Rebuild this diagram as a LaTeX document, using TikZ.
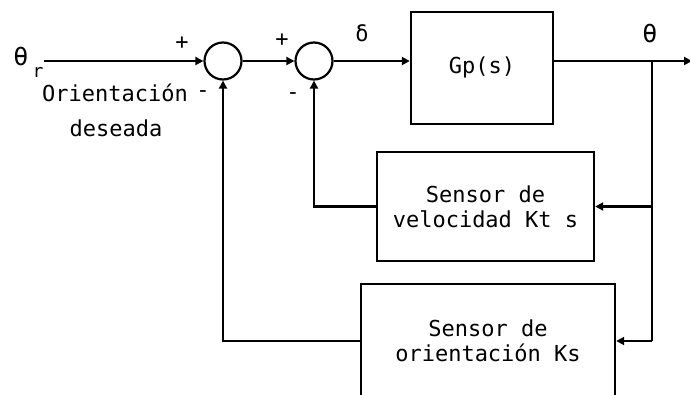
\documentclass[tikz,border=0pt]{standalone}
\usepackage{fontspec}
\setmainfont{DejaVu Sans Mono}
\usetikzlibrary{arrows.meta}
\begin{document}
\begin{tikzpicture}[x=1pt,y=-1pt,
  font=\fontsize{22}{25}\selectfont,
  wire/.style={line width=2.4pt},
  arr/.style={wire,-{Triangle[length=8pt,width=8pt]}},
  sumnode/.style={circle,draw,line width=2.2pt,minimum size=37pt,inner sep=0pt},
  blockbox/.style={draw,line width=2.4pt,inner sep=0pt,align=center},
  lbl/.style={inner sep=0pt}]
\useasboundingbox (0,0) rectangle (690,394);
\node[sumnode] (s1) at (223,61) {};
\node[sumnode] (s2) at (314,61) {};
\node[blockbox,minimum width=142pt,minimum height=112pt] (gp) at (482,68) {\raisebox{6pt}{Gp(s)}};
\node[blockbox,minimum width=217pt,minimum height=109pt] (vel) at (485.5,206.5) {Sensor de\\velocidad Kt s};
\node[blockbox,minimum width=254pt,minimum height=114pt] (ori) at (488,341) {Sensor de\\orientación Ks};
\coordinate (in) at (44,61);
\coordinate (out) at (692,61);
\coordinate (br) at (652,61);
\node[lbl,font=\fontsize{25}{28}\selectfont] (thr) at (21,57) {θ};
\node[lbl,font=\fontsize{18}{20}\selectfont] (sub) at (38,72) {r};
\node[lbl] (od1) at (115,93) {Orientación};
\node[lbl] (od2) at (116,128) {deseada};
\node[lbl] (p1) at (182,43) {+};
\node[lbl] (p2) at (282,40) {+};
\node[lbl] (m1) at (203,94) {-};
\node[lbl] (m2) at (293,96) {-};
\node[lbl] (dl) at (362,33) {δ};
\node[lbl,font=\fontsize{25}{28}\selectfont] (th) at (650,34) {θ};
\draw[arr] (in) -- (s1.west);
\draw[arr] (s1.east) -- (s2.west);
\draw[arr] (s2.east) -- (s2.east -| gp.west);
\draw[arr] (s2.east -| gp.east) -- (out);
\draw[wire] (br) -- (br |- ori.east);
\draw[arr] (br |- ori.east) -- (ori.east);
\draw[arr] (br |- vel.east) -- (vel.east);
\draw[arr] (vel.west) -| (s2.south);
\draw[arr] (ori.west) -| (s1.south);
\end{tikzpicture}
\end{document}
